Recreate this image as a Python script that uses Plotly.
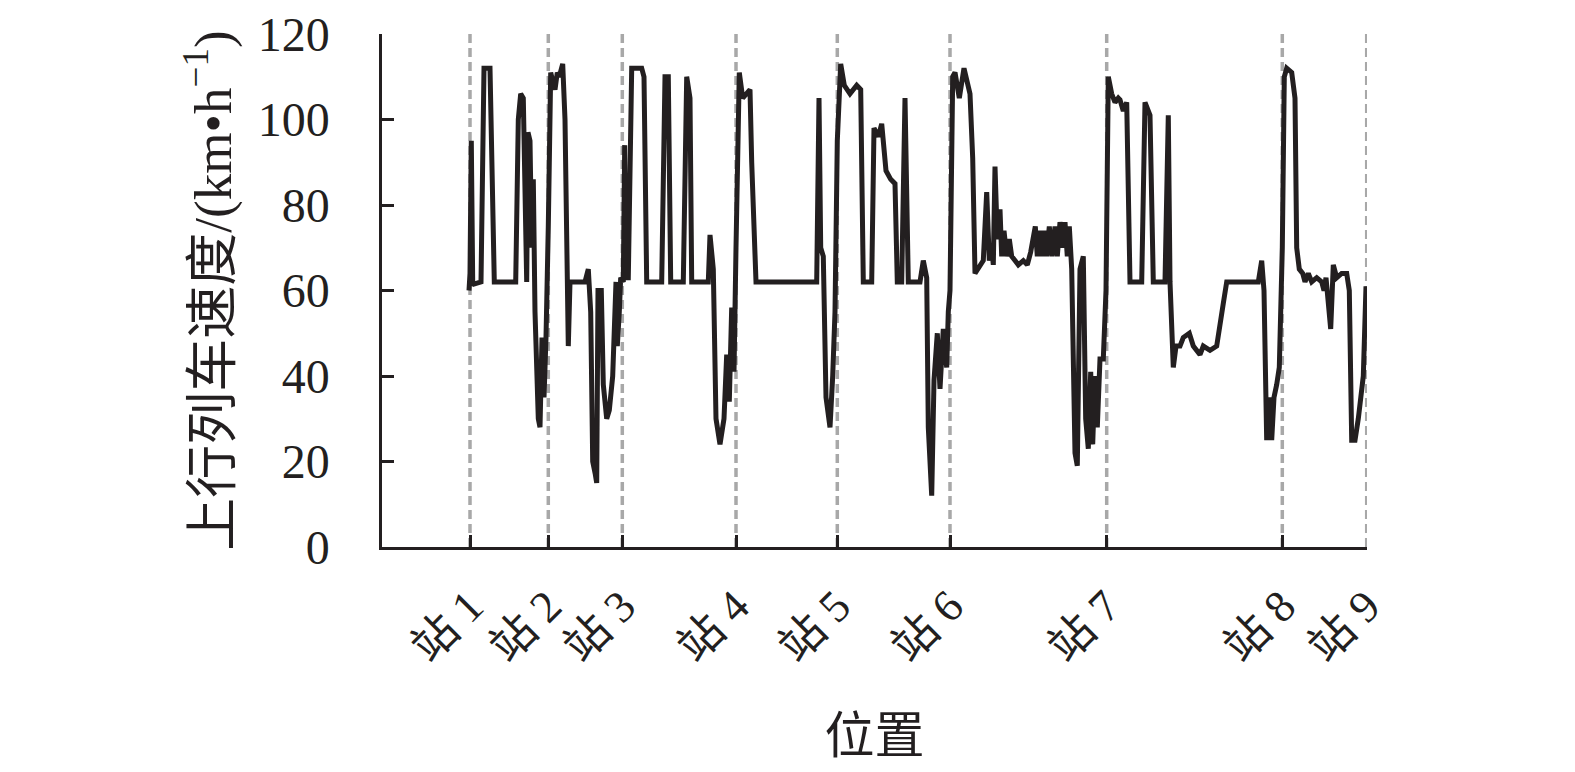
import plotly.graph_objects as go

# Station positions (arbitrary position units along the line)
station_pos = [88, 166.3, 240.3, 354, 455.3, 568, 724.7, 900.3, 984.7]
station_names = ["站 1", "站 2", "站 3", "站 4", "站 5", "站 6", "站 7", "站 8", "站 9"]

# Upward train speed trace (km/h) vs position
position = [
    87, 88, 89.3, 90.7, 92, 99, 102, 108, 112.3, 133.7, 136.3, 138.7, 141.3, 143, 144.7,
    146, 148, 149.7, 151.3, 153, 156.3, 158, 160, 162, 164, 166.3, 168.7, 170.7, 173,
    175.3, 177.3, 180.7, 183, 186.3, 188, 203, 206.3, 208.7, 210.7, 213.3, 214.7, 216,
    219.3, 221.3, 224.7, 227.3, 230.7, 234, 235.3, 237.3, 238.7, 241.3, 242.7, 244,
    246.3, 249.7, 259.7, 262, 264.7,
    279.7, 283, 286.3, 288.7, 301.3, 304.7, 308, 309.7, 326.3, 328, 331.3, 334, 338,
    342, 344.7, 347.3, 349.7, 352, 354, 357.3, 360.7, 364.7, 368, 369.7, 374, 434.7,
    437, 438.7, 441.3, 444, 448, 450.7, 453, 455.3, 458.7, 462.3, 468, 474.7, 478.7,
    481.3, 489.7, 492, 496.3, 499.7, 504, 508.7, 513, 515.3, 519.7, 523, 524.7, 526.3,
    538, 541.3, 544.7, 546.3, 549.7, 552, 555.3, 558,
    561.3, 564.7, 566.3, 568, 570.7, 573, 577.3, 582, 588, 590.7, 593, 598, 601.3,
    604.7, 607.3, 609.7, 611.3, 613, 615.3, 618, 619.7, 622, 624.7, 627.3, 629.7, 633,
    636.3, 641.3, 645.3, 648.7, 651.3, 653.3, 655.3, 657.3, 659.7, 662, 664.7, 667.3,
    670, 673, 675.3, 678, 680.7, 683, 685.3, 687.3, 689.7, 691.3, 693, 695.3, 698,
    701.3, 703.7, 706.3, 708.7, 710.7, 713, 715.3, 718, 721.3, 724, 726.3, 729.7, 733,
    736.3, 738, 741.3, 744.7,
    748, 759.7, 763, 768, 771.3, 783, 786.3, 788, 791.3, 794, 798, 801.3, 807.3, 811.3,
    818, 821.3, 828, 834.7, 838, 841.3, 844.7, 876.3, 879.7, 882, 884.7, 887.3, 889.7,
    892, 894.7, 897.3, 900.3, 902.3, 904.7, 909.7, 913, 914.7, 917.3, 920.7, 923, 926.3,
    929.7, 934.7, 939.7, 942, 944, 948.7, 951.3, 954.7, 959.7, 964.7, 967.3, 969.7, 973,
    976.3, 981.3, 984,
]
speed = [
    60, 64, 95, 62, 61.5, 62, 112, 112, 62, 62, 100, 106, 105, 75, 62,
    97, 95, 70, 86, 55, 30, 28, 49, 35, 49, 75, 111, 109, 107,
    111, 110, 113, 100, 47, 62, 62, 65, 55, 20, 17, 15, 60,
    60, 38, 30, 32, 40, 62, 47, 55, 63, 62, 94, 63,
    63, 112, 112, 110, 62,
    62, 110, 110, 62, 62, 110, 105, 62, 62, 73, 65, 30, 24,
    30, 45, 34, 56, 41, 70, 111, 105, 106, 107, 90, 62, 62,
    105, 70, 68, 35, 28, 40, 55, 95, 113, 108, 106, 108, 107,
    62, 62, 98, 96, 99, 88, 86, 85, 62, 62, 105, 80, 62,
    62, 67, 63, 28, 12, 39, 50, 37,
    51, 42, 55, 60, 110, 111, 105, 112, 106, 91, 64, 66, 67,
    83, 67, 70, 66, 89, 72, 79, 68, 74, 68, 72, 68, 67,
    66, 67, 66, 69, 72, 75, 68, 74, 68, 74, 68, 75,
    68, 75, 68, 76, 70, 76, 68, 75, 65, 45, 22, 19, 65,
    68, 30, 23, 41, 24, 40, 28, 44, 44, 60, 110, 106, 104,
    105, 104.6, 102, 104,
    62, 62, 104, 101, 62, 62, 101, 62, 42, 47, 47, 49, 50, 47,
    45, 47, 46, 47, 53, 57, 62, 62, 67, 60, 25, 35, 25,
    35, 38, 42, 70, 110, 112, 111, 105, 70, 65, 64, 62, 64,
    62, 63, 62, 60, 63, 51, 66, 63, 64, 64, 60, 25, 25,
    30, 40, 61,
]

y_ticks = [0, 20, 40, 60, 80, 100, 120]

dark = "#231f20"
font_main = "Liberation Serif, Noto Sans CJK SC, serif"

# dashed vertical station lines built from station positions
gx, gy = [], []
for s in station_pos:
    gx += [s, s, None]
    gy += [0, 120, None]

fig = go.Figure()
fig.add_trace(go.Scatter(
    x=gx, y=gy, mode="lines",
    line=dict(color="#a8a8a8", width=3.5, dash="9px,5px"),
    hoverinfo="skip", showlegend=False,
))
fig.add_trace(go.Scatter(
    x=position, y=speed, mode="lines",
    line=dict(color=dark, width=5),
    showlegend=False,
))

fig.update_layout(
    width=1575, height=772,
    paper_bgcolor="white", plot_bgcolor="white",
    margin=dict(l=374, r=216, t=26, b=233, autoexpand=False),
    font=dict(family=font_main, size=48, color=dark),
)
fig.update_xaxes(
    range=[0, 985], automargin=False,
    tickvals=station_pos, ticktext=station_names,
    tickangle=-45,
    ticks="inside", ticklen=12, tickwidth=2.5, tickcolor=dark,
    showline=True, linewidth=2.5, linecolor=dark,
    showgrid=False, zeroline=False,
    ticklabelstandoff=12, ticklabeloverflow="allow",
    tickfont=dict(family=font_main, size=45, color=dark),
    title=dict(text="位置", font=dict(family=font_main, size=50, color=dark), standoff=48),
)
fig.update_yaxes(
    range=[0, 120], automargin=False,
    tickvals=y_ticks,
    ticks="inside", ticklen=12, tickwidth=2.5, tickcolor=dark,
    showline=True, linewidth=2.5, linecolor=dark,
    showgrid=False, zeroline=False,
    ticklabelstandoff=40, ticklabeloverflow="allow",
    tickfont=dict(family=font_main, size=48, color=dark),
    title=dict(text="上行列车速度/(km•h<sup>−1</sup>)",
               font=dict(family=font_main, size=53, color=dark), standoff=10),
)

fig.write_html("out.html")
